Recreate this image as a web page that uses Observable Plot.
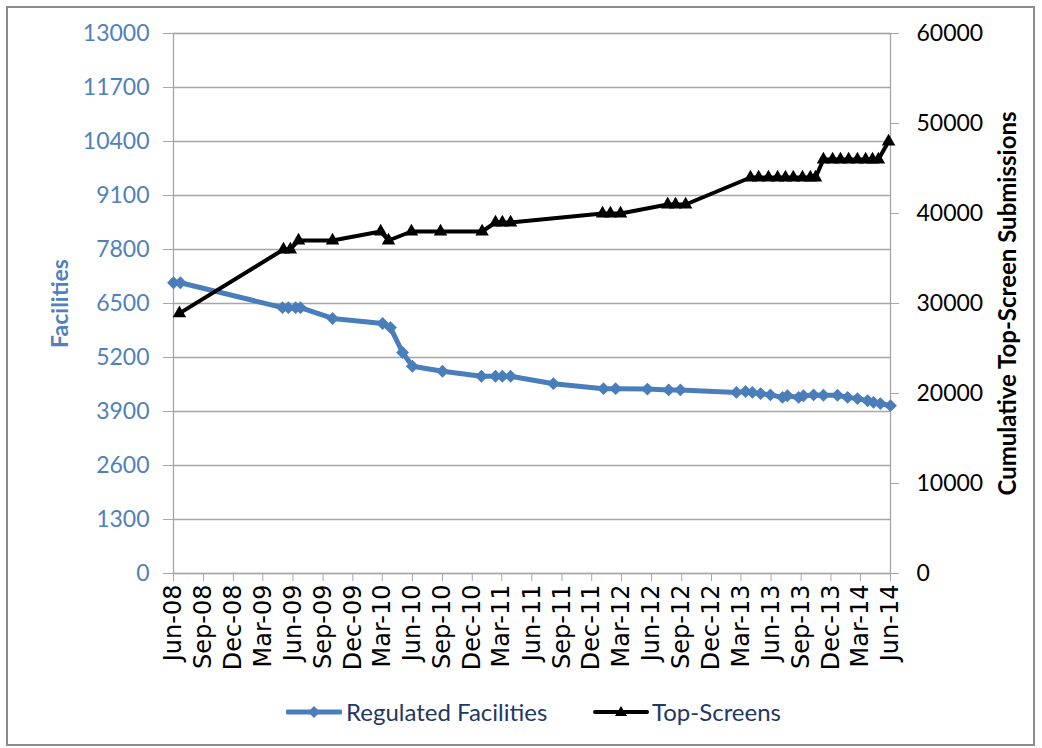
<!DOCTYPE html>
<html><head><meta charset="utf-8">
<script src="https://cdn.jsdelivr.net/npm/d3@7"></script>
<script src="https://cdn.jsdelivr.net/npm/@observablehq/plot@0.6"></script>
<style>
body{margin:0;background:#fff;}
#wrap{position:relative;width:1042px;height:748px;overflow:hidden;background:#fff;}
#border{position:absolute;left:6px;top:6px;width:1029px;height:740px;border:2px solid #8c8c8c;box-sizing:border-box;pointer-events:none;}
#legend{position:absolute;left:0;top:690px;width:1042px;height:44px;font-family:Lato,"Liberation Sans",sans-serif;font-size:24px;color:#1F3864;}
.sw{position:absolute;top:12px;}
.lt{position:absolute;top:7px;line-height:30px;white-space:nowrap;}
</style></head>
<body>
<div id="wrap"><div id="chart"></div><div id="legend"></div><div id="border"></div></div>
<script>
// ---- data ----
const facilityDates = ["2008-06-01","2008-06-22","2009-04-30","2009-05-18","2009-06-09","2009-06-24","2009-09-30","2010-03-02","2010-03-26","2010-05-02","2010-06-01","2010-09-01","2010-12-29","2011-02-10","2011-03-03","2011-03-28","2011-08-06","2012-01-06","2012-02-12","2012-05-19","2012-07-23","2012-08-28","2013-02-15","2013-03-15","2013-04-05","2013-04-30","2013-05-30","2013-07-06","2013-07-21","2013-08-24","2013-09-08","2013-10-09","2013-11-08","2013-12-21","2014-01-21","2014-02-20","2014-03-23","2014-04-10","2014-05-01","2014-06-01"];
const facilityValues = [7000,7000,6400,6400,6400,6400,6140,6020,5920,5320,4990,4870,4750,4750,4750,4750,4570,4450,4450,4440,4420,4420,4360,4380,4360,4330,4300,4240,4280,4240,4280,4300,4290,4290,4240,4210,4160,4120,4090,4040];
const topScreenDates = ["2008-06-19","2009-05-03","2009-05-24","2009-06-18","2009-09-30","2010-02-24","2010-03-20","2010-05-29","2010-08-26","2010-12-31","2011-02-10","2011-03-03","2011-03-28","2012-01-03","2012-01-27","2012-02-27","2012-07-20","2012-08-13","2012-09-13","2013-03-30","2013-04-24","2013-05-24","2013-06-21","2013-07-15","2013-08-08","2013-09-05","2013-09-29","2013-10-15","2013-11-08","2013-12-06","2013-12-30","2014-01-24","2014-02-20","2014-03-17","2014-04-07","2014-04-25","2014-05-26"];
const topScreenValues = [28900,36000,36000,37000,37000,38000,37000,38000,38000,38000,39000,39000,39000,40000,40000,40000,41000,41000,41000,44000,44000,44000,44000,44000,44000,44000,44000,44000,46000,46000,46000,46000,46000,46000,46000,46000,48000];
const leftTicks = [0,1300,2600,3900,5200,6500,7800,9100,10400,11700,13000];
const rightTicks = [0,10000,20000,30000,40000,50000,60000];
const xTickDates = ["2008-06-01","2008-09-01","2008-12-01","2009-03-01","2009-06-01","2009-09-01","2009-12-01","2010-03-01","2010-06-01","2010-09-01","2010-12-01","2011-03-01","2011-06-01","2011-09-01","2011-12-01","2012-03-01","2012-06-01","2012-09-01","2012-12-01","2013-03-01","2013-06-01","2013-09-01","2013-12-01","2014-03-01","2014-06-01"];
const leftTitle = "Facilities";
const rightTitle = "Cumulative Top-Screen Submissions";
const seriesNames = ["Regulated Facilities","Top-Screens"];
const colors = ["#4A7EBB","#000000"];

// ---- build ----
const parse = d3.utcParse("%Y-%m-%d");
const facilities = facilityDates.map((d,i)=>({date:parse(d), value:facilityValues[i]}));
const topScreens = topScreenDates.map((d,i)=>({date:parse(d), value:topScreenValues[i]}));
const k = 13000/60000; // right axis -> left axis units
const gridColor = "#a6a6a6";

const chart = Plot.plot({
  width:1042, height:690,
  marginTop:33, marginBottom:117, marginLeft:173, marginRight:152,
  style:{fontFamily:"Lato, 'Liberation Sans', sans-serif", background:"transparent"},
  x:{type:"utc", domain:[parse(xTickDates[0]), parse(xTickDates[xTickDates.length-1])]},
  y:{domain:[0,13000]},
  marks:[
    Plot.gridY(leftTicks,{stroke:gridColor, strokeOpacity:1, strokeWidth:1.3}),
    Plot.frame({stroke:gridColor, strokeWidth:1.3}),
    Plot.axisY(leftTicks,{anchor:"left", tickSize:10, tickPadding:14, tickFormat:d=>String(d), fill:"#4F81BD", stroke:gridColor, fontSize:23, label:null}),
    Plot.axisY(rightTicks.map(v=>v*k),{anchor:"right", tickSize:8, tickPadding:18, tickFormat:d=>String(Math.round(d/k)), fill:"#000", stroke:gridColor, fontSize:23, label:null}),
    Plot.axisX(xTickDates.map(parse),{anchor:"bottom", tickRotate:-90, tickSize:8, tickPadding:3, tickFormat:d3.utcFormat("%b-%y"), fill:"#000", stroke:gridColor, fontSize:24, fontFamily:"DejaVu Sans", label:null}),
    Plot.line(facilities,{x:"date", y:"value", stroke:colors[0], strokeWidth:5}),
    Plot.dot(facilities,{x:"date", y:"value", symbol:"diamond2", r:5.8, fill:colors[0], stroke:"none"}),
    Plot.line(topScreens,{x:"date", y:d=>d.value*k, stroke:colors[1], strokeWidth:4}),
    Plot.dot(topScreens,{x:"date", y:d=>d.value*k, symbol:"triangle", r:5, fill:colors[1], stroke:"none"}),
    Plot.text([leftTitle],{frameAnchor:"left", dx:-113, rotate:-90, textAnchor:"middle", text:d=>d, fill:"#4F81BD", fontWeight:"bold", fontSize:23}),
    Plot.text([rightTitle],{frameAnchor:"right", dx:118, rotate:-90, textAnchor:"middle", text:d=>d, fill:"#000", fontWeight:"bold", fontSize:24})
  ]
});
document.getElementById("chart").appendChild(chart);

// legend
const legend = document.getElementById("legend");
const items = [
  {name:seriesNames[0], color:colors[0], sym:"diamond", sx:286, tx:346, w:5},
  {name:seriesNames[1], color:colors[1], sym:"triangle", sx:593, tx:652, w:4}
];
for (const it of items) {
  const sw = document.createElementNS("http://www.w3.org/2000/svg","svg");
  sw.setAttribute("class","sw"); sw.setAttribute("width","56"); sw.setAttribute("height","20");
  sw.style.left = it.sx+"px";
  const marker = it.sym==="diamond"
    ? `<path d="M28,4 L34,10 L28,16 L22,10 Z" fill="${it.color}"/>`
    : `<path d="M28,4 L34,14 L22,14 Z" fill="${it.color}"/>`;
  sw.innerHTML = `<line x1="2" y1="10" x2="54" y2="10" stroke="${it.color}" stroke-width="${it.w}" stroke-linecap="round"/>${marker}`;
  legend.appendChild(sw);
  const t = document.createElement("div");
  t.className = "lt"; t.style.left = it.tx+"px"; t.textContent = it.name;
  legend.appendChild(t);
}
</script>
</body></html>
